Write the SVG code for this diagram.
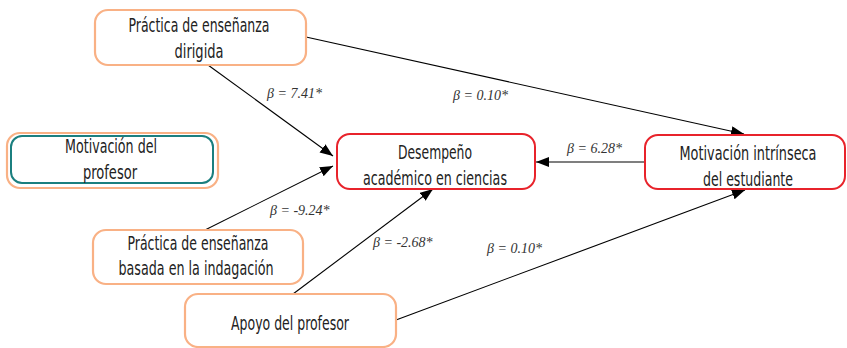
<svg xmlns="http://www.w3.org/2000/svg" width="847" height="348" viewBox="0 0 847 348">
<style>
.ob{fill:#fff;stroke:#F9B185;stroke-width:2.2}
.rb{fill:#fff;stroke:#E8232B;stroke-width:2}
.tb{fill:#fff;stroke:#1B7F7F;stroke-width:2}
.t{font-family:"Liberation Sans Narrow","DejaVu Sans Condensed","Liberation Sans",sans-serif;font-size:20px;fill:#222;text-anchor:middle}
.b{font-family:"Liberation Serif",serif;font-style:italic;font-size:14px;fill:#333}
.c{stroke:#000;stroke-width:1.1;fill:none;marker-end:url(#ah)}
</style>
<defs>
<marker id="ah" markerUnits="userSpaceOnUse" markerWidth="14" markerHeight="12" refX="13" refY="5" orient="auto">
<path d="M0,0 L13,5 L0,10 Z" fill="#000"/>
</marker>
</defs>
<g id="connectors">
<line class="c" x1="208" y1="65" x2="333" y2="156"/>
<line class="c" x1="306" y1="37" x2="744" y2="134"/>
<line class="c" x1="205" y1="230" x2="333" y2="166"/>
<line class="c" x1="293" y1="294" x2="433" y2="189"/>
<line class="c" x1="396" y1="320" x2="745" y2="190"/>
<line class="c" x1="645" y1="162" x2="536" y2="162"/>
<text class="b" x="267" y="98">β = 7.41*</text>
<text class="b" x="453" y="100">β = 0.10*</text>
<text class="b" x="567" y="153">β = 6.28*</text>
<text class="b" x="270" y="215">β = -9.24*</text>
<text class="b" x="373" y="247">β = -2.68*</text>
<text class="b" x="487" y="253">β = 0.10*</text>
</g>
<g id="practica-dirigida">
<rect class="ob" x="95" y="10" width="211" height="55" rx="13"/>
<text class="t" x="199" y="32" textLength="141" lengthAdjust="spacingAndGlyphs">Práctica de enseñanza</text>
<text class="t" x="199" y="58" textLength="49" lengthAdjust="spacingAndGlyphs">dirigida</text>
</g>
<g id="motivacion-profesor">
<rect class="ob" x="7" y="133" width="211" height="55" rx="13"/>
<rect class="tb" x="11" y="136" width="202" height="47" rx="11"/>
<text class="t" x="111" y="153" textLength="92" lengthAdjust="spacingAndGlyphs">Motivación del</text>
<text class="t" x="110" y="179" textLength="54" lengthAdjust="spacingAndGlyphs">profesor</text>
</g>
<g id="practica-indagacion">
<rect class="ob" x="93" y="230" width="210" height="54" rx="13"/>
<text class="t" x="198" y="250" textLength="141" lengthAdjust="spacingAndGlyphs">Práctica de enseñanza</text>
<text class="t" x="196" y="275" textLength="155" lengthAdjust="spacingAndGlyphs">basada en la indagación</text>
</g>
<g id="apoyo-profesor">
<rect class="ob" x="185" y="294" width="211" height="53" rx="13"/>
<text class="t" x="290" y="330" textLength="118" lengthAdjust="spacingAndGlyphs">Apoyo del profesor</text>
</g>
<g id="desempeno">
<rect class="rb" x="337" y="134" width="198" height="55" rx="13"/>
<text class="t" x="435" y="159" textLength="74" lengthAdjust="spacingAndGlyphs">Desempeño</text>
<text class="t" x="435" y="185" textLength="144" lengthAdjust="spacingAndGlyphs">académico en ciencias</text>
</g>
<g id="motivacion-intrinseca">
<rect class="rb" x="645" y="135" width="200" height="54" rx="13"/>
<text class="t" x="748" y="160" textLength="137" lengthAdjust="spacingAndGlyphs">Motivación intrínseca</text>
<text class="t" x="748" y="186" textLength="90" lengthAdjust="spacingAndGlyphs">del estudiante</text>
</g>
</svg>
